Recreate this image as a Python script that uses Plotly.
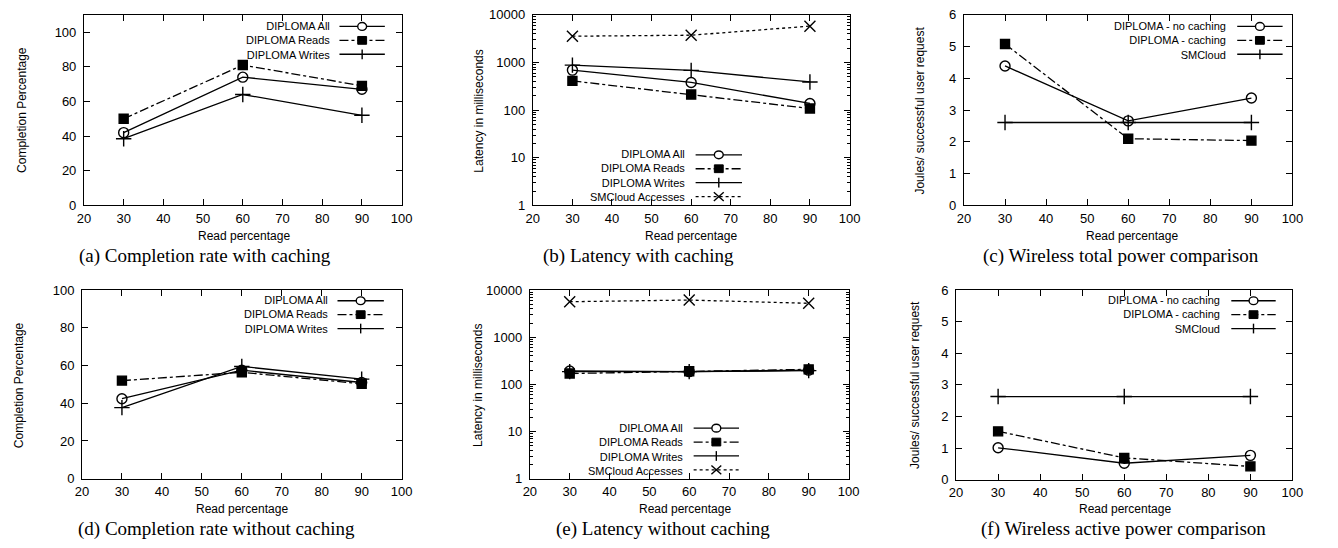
import plotly.graph_objects as go

# ---------------- data ----------------
read_pct = [30, 60, 90]
x_ticks = [20, 30, 40, 50, 60, 70, 80, 90, 100]

# (a) completion rate with caching
a_all = [42, 74, 67]
a_reads = [50, 81, 69]
a_writes = [38.5, 64, 52]

# (b) latency with caching (ms)
b_all = [690, 380, 138]
b_reads = [410, 212, 108]
b_writes = [880, 680, 390]
b_smcloud = [3550, 3730, 5780]

# (c) wireless total power
c_nocache = [4.39, 2.66, 3.38]
c_cache = [5.08, 2.10, 2.04]
c_smcloud = [2.61, 2.61, 2.61]

# (d) completion rate without caching
d_all = [42.4, 57.5, 51.0]
d_reads = [52.0, 56.4, 50.3]
d_writes = [37.7, 59.5, 52.8]

# (e) latency without caching (ms)
e_all = [192, 186, 200]
e_reads = [170, 190, 208]
e_writes = [186, 186, 196]
e_smcloud = [5660, 6130, 5230]

# (f) wireless active power
f_nocache = [1.01, 0.52, 0.77]
f_cache = [1.53, 0.69, 0.42]
f_smcloud = [2.63, 2.63, 2.63]

names_diploma = ["DIPLOMA All", "DIPLOMA Reads", "DIPLOMA Writes", "SMCloud Accesses"]
names_power = ["DIPLOMA - no caching", "DIPLOMA - caching", "SMCloud"]

captions = ["(a) Completion rate with caching", "(b) Latency with caching",
            "(c) Wireless total power comparison", "(d) Completion rate without caching",
            "(e) Latency without caching", "(f) Wireless active power comparison"]
y_titles = ["Completion Percentage", "Latency in milliseconds", "Joules/ successful user request",
            "Completion Percentage", "Latency in milliseconds", "Joules/ successful user request"]
x_title = "Read percentage"

# ---------------- layout constants ----------------
W, H = 1338, 548
# plot boxes in pixels: left, right, top, bottom
boxes = [(78, 400, 8, 204), (533, 854, 8, 204), (970, 1303, 8, 204),
         (76, 400, 291, 485), (530, 853, 291, 485), (962, 1303, 291, 486)]
ytitle_pos = [(15, 106), (479, 107), (926, 107), (13, 389), (478, 389), (921, 389)]
xtitle_pos = [(240, 235), (693, 235), (1140, 235), (238, 516), (687, 516), (1133, 516)]
caption_pos = [(201, 256), (640, 256), (1129, 256), (212, 537), (665, 537), (1132, 537)]
# legend: text right edge, key line left, key line right, first row y (px)
legend_geo = [(328, 337, 383, 20), (688, 698, 745, 152), (1237, 1247, 1293, 20),
              (326, 335, 382, 302), (686, 696, 742, 433), (1231, 1241, 1286, 302)]
LEG_FS = 11
ROW = LEG_FS * 1.3

FONT = "Liberation Sans, Arial, Helvetica, sans-serif"
SERIF = "Liberation Serif, Times New Roman, serif"

STY = {
    "circle": dict(dash="solid", symbol="circle-open", size=10),
    "square": dict(dash="dashdot", symbol="square", size=9),
    "plus": dict(dash="solid", symbol="cross-thin-open", size=11),
    "cross": dict(dash="dot", symbol="x-thin-open", size=11),
}

panels = [
    [(a_all, names_diploma[0], "circle"), (a_reads, names_diploma[1], "square"),
     (a_writes, names_diploma[2], "plus")],
    [(b_all, names_diploma[0], "circle"), (b_reads, names_diploma[1], "square"),
     (b_writes, names_diploma[2], "plus"), (b_smcloud, names_diploma[3], "cross")],
    [(c_nocache, names_power[0], "circle"), (c_cache, names_power[1], "square"),
     (c_smcloud, names_power[2], "plus")],
    [(d_all, names_diploma[0], "circle"), (d_reads, names_diploma[1], "square"),
     (d_writes, names_diploma[2], "plus")],
    [(e_all, names_diploma[0], "circle"), (e_reads, names_diploma[1], "square"),
     (e_writes, names_diploma[2], "plus"), (e_smcloud, names_diploma[3], "cross")],
    [(f_nocache, names_power[0], "circle"), (f_cache, names_power[1], "square"),
     (f_smcloud, names_power[2], "plus")],
]
y_kinds = ["pct110", "log", "joule", "pct100", "log", "joule"]

fig = go.Figure()

for p, series in enumerate(panels):
    idx = "" if p == 0 else str(p + 1)
    for y, name, sty in series:
        s = STY[sty]
        fig.add_trace(go.Scatter(
            x=read_pct, y=y, name=name, mode="lines+markers",
            xaxis="x" + idx, yaxis="y" + idx, showlegend=False,
            line=dict(color="black", width=1.3, dash=s["dash"]),
            marker=dict(symbol=s["symbol"], size=s["size"], color="black",
                        line=dict(color="black", width=1.4)),
            cliponaxis=False,
        ))

base_axis = dict(ticks="inside", ticklen=6, tickwidth=1, tickcolor="black",
                 showline=True, linecolor="black", linewidth=1, mirror="ticks",
                 showgrid=False, zeroline=False,
                 tickfont=dict(family=FONT, size=13, color="black"))

layout = dict(width=W, height=H, margin=dict(l=0, r=0, t=0, b=0),
              paper_bgcolor="white", plot_bgcolor="white", showlegend=False,
              font=dict(family=FONT, size=13, color="black"), annotations=[], shapes=[])


def px(x):
    return x / W


def py(y):
    return 1 - y / H


for i, (l, r, t, b) in enumerate(boxes):
    idx = "" if i == 0 else str(i + 1)
    xa = dict(base_axis, domain=[px(l), px(r)], range=[20, 100], tickvals=x_ticks,
              anchor="y" + idx, ticklabelstandoff=1)
    ya = dict(base_axis, domain=[py(b), py(t)], anchor="x" + idx, ticklabelstandoff=4)
    k = y_kinds[i]
    if k == "pct110":
        ya.update(range=[0, 110], tickvals=[0, 20, 40, 60, 80, 100])
    elif k == "pct100":
        ya.update(range=[0, 100], tickvals=[0, 20, 40, 60, 80, 100])
    elif k == "joule":
        ya.update(range=[0, 6], tickvals=[0, 1, 2, 3, 4, 5, 6])
    else:
        ya.update(type="log", range=[0, 4], dtick=1, tick0=0, tickformat="d",
                  minor=dict(ticks="inside", ticklen=3, tickwidth=1, tickcolor="black",
                             dtick="D1", showgrid=False))
    layout["xaxis" + idx] = xa
    layout["yaxis" + idx] = ya

    # ---- gnuplot-style legend: right-aligned text, key sample to the right ----
    tr, kl, kr, y0 = legend_geo[i]
    names = [s[1] for s in panels[i]]
    stys = [s[2] for s in panels[i]]
    n = len(names)
    layout["annotations"].append(dict(
        text="<br>".join(names), x=px(tr), y=py(y0 + ROW * (n - 1) / 2), xref="paper",
        yref="paper", showarrow=False, align="right", xanchor="right", yanchor="middle",
        font=dict(family=FONT, size=LEG_FS, color="black"), borderpad=0))
    cx = (kl + kr) / 2
    for j, sty in enumerate(stys):
        yy = y0 + ROW * j
        layout["shapes"].append(dict(type="line", xref="paper", yref="paper",
                                     x0=px(kl), x1=px(kr), y0=py(yy), y1=py(yy),
                                     line=dict(color="black", width=1.3, dash=STY[sty]["dash"])))
        if sty == "circle":
            layout["shapes"].append(dict(type="circle", xref="paper", yref="paper",
                                         x0=px(cx - 4.5), x1=px(cx + 4.5), y0=py(yy + 4),
                                         y1=py(yy - 4), fillcolor="white",
                                         line=dict(color="black", width=1.4)))
        elif sty == "square":
            layout["shapes"].append(dict(type="rect", xref="paper", yref="paper",
                                         x0=px(cx - 4.5), x1=px(cx + 4.5), y0=py(yy + 4),
                                         y1=py(yy - 4), fillcolor="black",
                                         line=dict(color="black", width=1)))
        elif sty == "plus":
            layout["shapes"].append(dict(type="line", xref="paper", yref="paper",
                                         x0=px(cx), x1=px(cx), y0=py(yy + 5), y1=py(yy - 5),
                                         line=dict(color="black", width=1.4)))
        else:
            for sgn in (1, -1):
                layout["shapes"].append(dict(type="line", xref="paper", yref="paper",
                                             x0=px(cx - 5), x1=px(cx + 5),
                                             y0=py(yy + 4.5 * sgn), y1=py(yy - 4.5 * sgn),
                                             line=dict(color="black", width=1.4)))

    tx, ty = ytitle_pos[i]
    layout["annotations"].append(dict(text=y_titles[i], x=px(tx), y=py(ty), xref="paper",
                                      yref="paper", textangle=-90, showarrow=False,
                                      font=dict(family=FONT, size=12, color="black"),
                                      xanchor="center", yanchor="middle", borderpad=0))
    tx, ty = xtitle_pos[i]
    layout["annotations"].append(dict(text=x_title, x=px(tx), y=py(ty), xref="paper",
                                      yref="paper", showarrow=False,
                                      font=dict(family=FONT, size=12, color="black"),
                                      xanchor="center", yanchor="middle", borderpad=0))
    tx, ty = caption_pos[i]
    layout["annotations"].append(dict(text=captions[i], x=px(tx), y=py(ty), xref="paper",
                                      yref="paper", showarrow=False,
                                      font=dict(family=SERIF, size=19, color="black"),
                                      xanchor="center", yanchor="middle", borderpad=0))

fig.update_layout(**layout)
fig.write_html("out.html", config={"displayModeBar": False},
               post_script="document.body.style.margin='0';")
